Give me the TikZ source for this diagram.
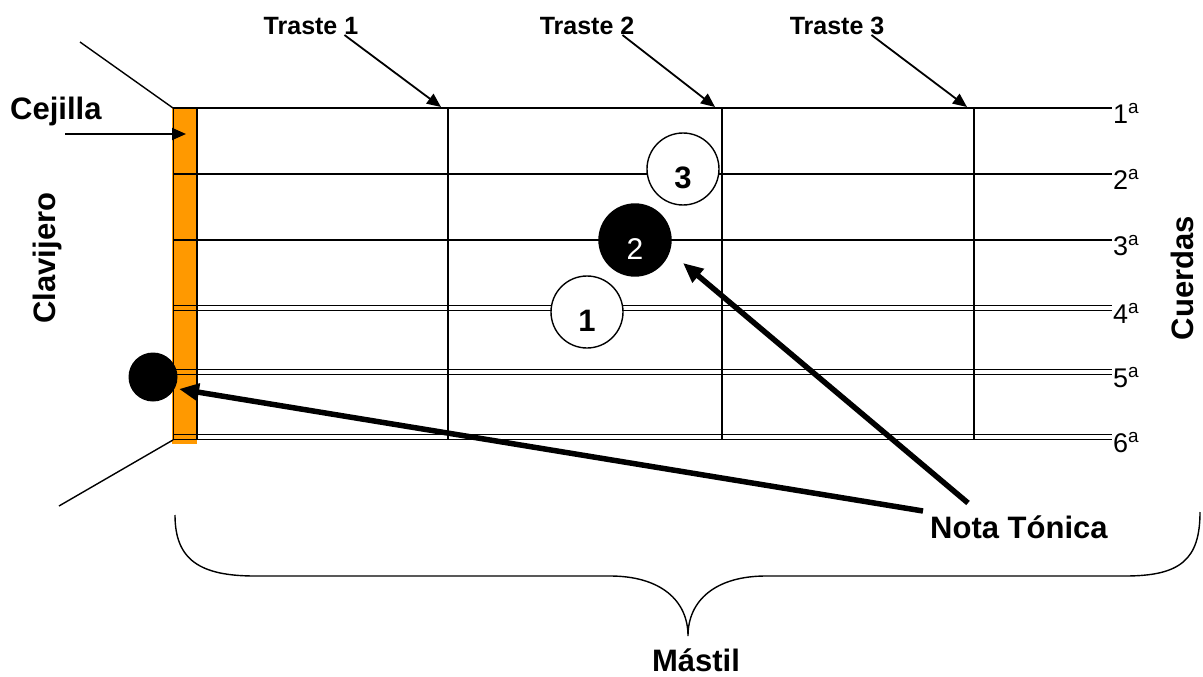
\documentclass[tikz,border=0pt]{standalone}
\usepackage{fontspec}
\setmainfont{Liberation Sans}
\usetikzlibrary{arrows.meta}
\definecolor{naranja}{HTML}{FF9900}
\newcommand{\letragrande}{\fontsize{31}{37}\selectfont\bfseries}
\newcommand{\letratraste}{\fontsize{25}{30}\selectfont\bfseries}
\newcommand{\letracuerda}{\fontsize{27}{32}\selectfont}

\begin{document}
\begin{tikzpicture}[x=1pt,y=-1pt,
  cuerda/.style={line width=1.4pt},
  flecha/.style={line width=1.8pt,-{Triangle[length=14pt,width=12pt]}},
  flechagruesa/.style={line width=5.5pt,-{Triangle[length=20pt,width=17pt]}},
  dedo/.style={circle,draw=black,line width=1.4pt,fill=white,minimum size=72pt,inner sep=0pt,
    font=\fontsize{31}{36}\selectfont\bfseries,text height=38pt,text depth=0pt}]
\useasboundingbox (0,0) rectangle (1203,677);

% cejilla
\fill[naranja] (172,108) rectangle (197,444);
\coordinate (nutTop) at (173,108);
\coordinate (nutBot) at (173,440);
\draw[line width=0.8pt] (nutTop) -- (nutBot);

% clavijero
\coordinate (headA) at (80,42);
\coordinate (headB) at (59,506);
\draw[line width=1.4pt] (headA) -- (nutTop);
\draw[line width=1.4pt] (nutBot) -- (headB);

% cuerdas
\foreach \y/\n in {108/1,174/2,240/3}{
  \draw[cuerda] (173,\y) -- (1112,\y);
  \node[anchor=base west,inner sep=0pt,font=\letracuerda] (cuerda\n) at (1113,\y+15) {\n\textsuperscript{a}};
}
\foreach \y/\n in {308/4,372/5,437/6}{
  \draw[cuerda] (173,\y-2.5) -- (1112,\y-2.5);
  \draw[cuerda] (173,\y+2.5) -- (1112,\y+2.5);
  \node[anchor=base west,inner sep=0pt,font=\letracuerda] (cuerda\n) at (1113,\y+15) {\n\textsuperscript{a}};
}

% trastes
\foreach \x/\n in {448/1,722/2,974/3}{
  \draw[cuerda] (\x,108) -- (\x,440);
  \coordinate (tip\n) at (\x-7,107);
}
\draw[line width=2pt] (197,108) -- (197,440);

\node[anchor=base,inner sep=0pt,font=\letratraste] (traste1) at (311,35) {Traste 1};
\node[anchor=base,inner sep=0pt,font=\letratraste] (traste2) at (587,35) {Traste 2};
\node[anchor=base,inner sep=0pt,font=\letratraste] (traste3) at (837,35) {Traste 3};
\draw[flecha] ([xshift=-14pt]traste1.base east) -- (tip1);
\draw[flecha] ([xshift=-12pt]traste2.base east) -- (tip2);
\draw[flecha] ([xshift=-13pt]traste3.base east) -- (tip3);

% dedos
\node[dedo] (dedo3) at (683,169) {3};
\node[dedo,fill=black,font=\fontsize{30}{36}\selectfont,text=white] (dedo2) at (635,240) {2};
\node[dedo] (dedo1) at (587,312) {1};
\node[circle,fill=black,minimum size=49pt,inner sep=0pt] (tonica) at (153,377) {};

% textos
\node[anchor=base west,inner sep=0pt,font=\letragrande] (cejilla) at (10,120) {Cejilla};
\coordinate (tipCej) at (186,134);
\draw[flecha] ([xshift=55pt,yshift=-14pt]cejilla.base west) -- (tipCej);

\node[rotate=90,inner sep=0pt,font=\letragrande] (clavijero) at (47,258) {Clavijero};
\node[rotate=90,inner sep=0pt,font=\letragrande] (cuerdas) at (1182,278) {Cuerdas};

\node[anchor=base west,inner sep=0pt,font=\letragrande] (nota) at (930,538) {Nota Tónica};
\coordinate (tipDos) at (683,263);
\coordinate (tipCinco) at (179,389);
\draw[flechagruesa] ([xshift=38pt,yshift=35pt]nota.base west) -- (tipDos);
\draw[flechagruesa] ([xshift=-7pt,yshift=27pt]nota.base west) -- (tipCinco);

% llave del mastil
\draw[line width=1.4pt] (175,515) .. controls (175,560) and (200,576) .. (255,576) -- (610,576)
  .. controls (660,576) and (688,600) .. (688,636)
  .. controls (688,600) and (716,576) .. (766,576) -- (1125,576)
  .. controls (1180,576) and (1200,560) .. (1200,512);
\node[anchor=base,inner sep=0pt,font=\letragrande] (mastil) at (696,671) {Mástil};
\end{tikzpicture}
\end{document}
